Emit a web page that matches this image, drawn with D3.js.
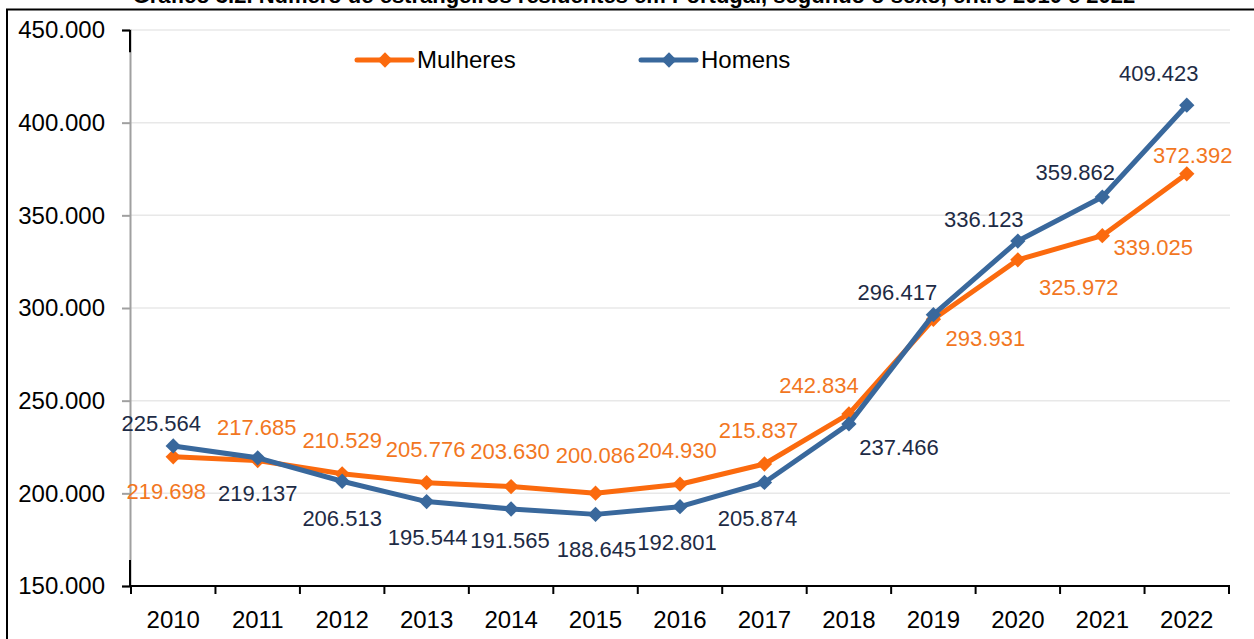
<!DOCTYPE html>
<html>
<head>
<meta charset="utf-8">
<script src="https://cdn.jsdelivr.net/npm/d3@7"></script>
<style>
  body { margin: 0; background: #fff; }
  svg text { font-family: "Liberation Sans", Arial, sans-serif; }
</style>
</head>
<body>
<div id="root"></div>
<script>
var anos = ['2010', '2011', '2012', '2013', '2014', '2015', '2016', '2017', '2018', '2019', '2020', '2021', '2022'];
var mulheres = [219698, 217685, 210529, 205776, 203630, 200086, 204930, 215837, 242834, 293931, 325972, 339025, 372392];
var homens = [225564, 219137, 206513, 195544, 191565, 188645, 192801, 205874, 237466, 296417, 336123, 359862, 409423];
var yTicks = [150000, 200000, 250000, 300000, 350000, 400000, 450000];
var titulo = 'Gráfico 3.2. Número de estrangeiros residentes em Portugal, segundo o sexo, entre 2010 e 2022';

// label placement (dx, dy in px from the point)
var mulheresLabelPos = [[-7, 34], [-1, -33], [0, -34], [-1, -33], [-1, -35], [0, -38], [-3, -34], [-6, -34], [-30, -29], [52, 19], [61, 27], [51, 12], [6, -19]];
var homensLabelPos = [[-12, -23], [0, 35], [0, 37], [1, 36], [-1, 31], [1, 35], [-3, 36], [-7, 36], [50, 23], [-36, -22], [-34, -22], [-27, -25], [-28, -32]];

var w = 1254, h = 639;
var fmt = d3.format(',d');
var ptFmt = function (v) { return fmt(v).replace(/,/g, '.'); };

var svg = d3.select('#root').append('svg').attr('width', w).attr('height', h);

// title (cut off at top like the original)
svg.append('text')
    .attr('x', 634).attr('y', 3)
    .attr('text-anchor', 'middle')
    .attr('font-size', 22).attr('font-weight', 'bold')
    .text(titulo);

// frame
svg.append('path')
    .attr('d', 'M7,' + (h + 5) + 'V9.5H' + (w + 5))
    .attr('fill', 'none').attr('stroke', '#000').attr('stroke-width', 2);

var x = d3.scaleBand().domain(anos).range([131, 1229]);
var y = d3.scaleLinear().domain([150000, 450000]).range([586, 30]);
var cx = function (i) { return x(anos[i]) + x.bandwidth() / 2; };

// gridlines
svg.append('g').selectAll('line')
    .data(yTicks.slice(1))
    .enter().append('line')
    .attr('x1', 131).attr('x2', 1230)
    .attr('y1', function (d) { return y(d); }).attr('y2', function (d) { return y(d); })
    .attr('stroke', '#e8e8e8').attr('stroke-width', 1.5);

// y axis
var yAxis = svg.append('g')
    .attr('transform', 'translate(130,0)')
    .call(d3.axisLeft(y).tickValues(yTicks).tickSize(8).tickPadding(17).tickFormat(ptFmt));
yAxis.select('.domain').attr('stroke', '#a0a0a0').attr('stroke-width', 2);
yAxis.selectAll('.tick line').attr('stroke', function (d) { return d === 450000 || d === 150000 ? '#000' : '#a0a0a0'; }).attr('stroke-width', 2);
yAxis.selectAll('.tick text').attr('font-size', 24).attr('fill', '#000');
yAxis.append('line')
    .attr('x1', 0).attr('x2', 0)
    .attr('y1', y(450000)).attr('y2', y(438000))
    .attr('stroke', '#000').attr('stroke-width', 2);
yAxis.append('line')
    .attr('x1', 0).attr('x2', 0)
    .attr('y1', y(164000)).attr('y2', y(150000))
    .attr('stroke', '#000').attr('stroke-width', 2);

// x axis
var xAxis = svg.append('g').attr('transform', 'translate(0,586)');
xAxis.append('line')
    .attr('x1', 130).attr('x2', 1230)
    .attr('stroke', '#000').attr('stroke-width', 2);
xAxis.selectAll('.tk')
    .data(anos.concat(['end']))
    .enter().append('line')
    .attr('class', 'tk')
    .attr('x1', function (d, i) { return i < anos.length ? x(d) : x(anos[anos.length - 1]) + x.bandwidth(); })
    .attr('x2', function (d, i) { return i < anos.length ? x(d) : x(anos[anos.length - 1]) + x.bandwidth(); })
    .attr('y1', 0).attr('y2', 8)
    .attr('stroke', '#000').attr('stroke-width', 2);
xAxis.selectAll('text')
    .data(anos)
    .enter().append('text')
    .attr('x', function (d, i) { return cx(i); })
    .attr('y', 34)
    .attr('dy', '0.35em')
    .attr('text-anchor', 'middle')
    .attr('font-size', 24)
    .text(function (d) { return d; });

var series = [
    { name: 'Mulheres', values: mulheres, pos: mulheresLabelPos, color: '#fb6a0e', labelColor: '#f2771f' },
    { name: 'Homens', values: homens, pos: homensLabelPos, color: '#39689c', labelColor: '#1e2b45' }
];

var line = d3.line()
    .x(function (d, i) { return cx(i); })
    .y(function (d) { return y(d); });
var diamond = d3.symbol().type(d3.symbolDiamond2).size(150);

series.forEach(function (s) {
    var g = svg.append('g');
    g.append('path')
        .attr('d', line(s.values))
        .attr('fill', 'none')
        .attr('stroke', s.color)
        .attr('stroke-width', 5)
        .attr('stroke-linejoin', 'round');
    g.selectAll('path.pt')
        .data(s.values)
        .enter().append('path')
        .attr('class', 'pt')
        .attr('d', diamond)
        .attr('transform', function (d, i) { return 'translate(' + cx(i) + ',' + y(d) + ')'; })
        .attr('fill', s.color);
});

series.forEach(function (s) {
    svg.append('g').selectAll('text')
        .data(s.values)
        .enter().append('text')
        .attr('x', function (d, i) { return cx(i) + s.pos[i][0]; })
        .attr('y', function (d, i) { return y(d) + s.pos[i][1]; })
        .attr('dy', '0.35em')
        .attr('text-anchor', 'middle')
        .attr('font-size', 22)
        .attr('fill', s.labelColor)
        .text(function (d) { return ptFmt(d); });
});

// legend
var legend = svg.append('g');
var legendItems = [{ s: series[0], x: 357 }, { s: series[1], x: 641 }];
legendItems.forEach(function (it) {
    var lg = legend.append('g').attr('transform', 'translate(' + it.x + ',60)');
    lg.append('line')
        .attr('x1', 0).attr('x2', 55)
        .attr('stroke', it.s.color).attr('stroke-width', 5).attr('stroke-linecap', 'round');
    lg.append('path')
        .attr('d', diamond)
        .attr('transform', 'translate(28,0)')
        .attr('fill', it.s.color);
    lg.append('text')
        .attr('x', 60).attr('dy', '0.35em')
        .attr('font-size', 24)
        .text(it.s.name);
});
</script>
</body>
</html>
